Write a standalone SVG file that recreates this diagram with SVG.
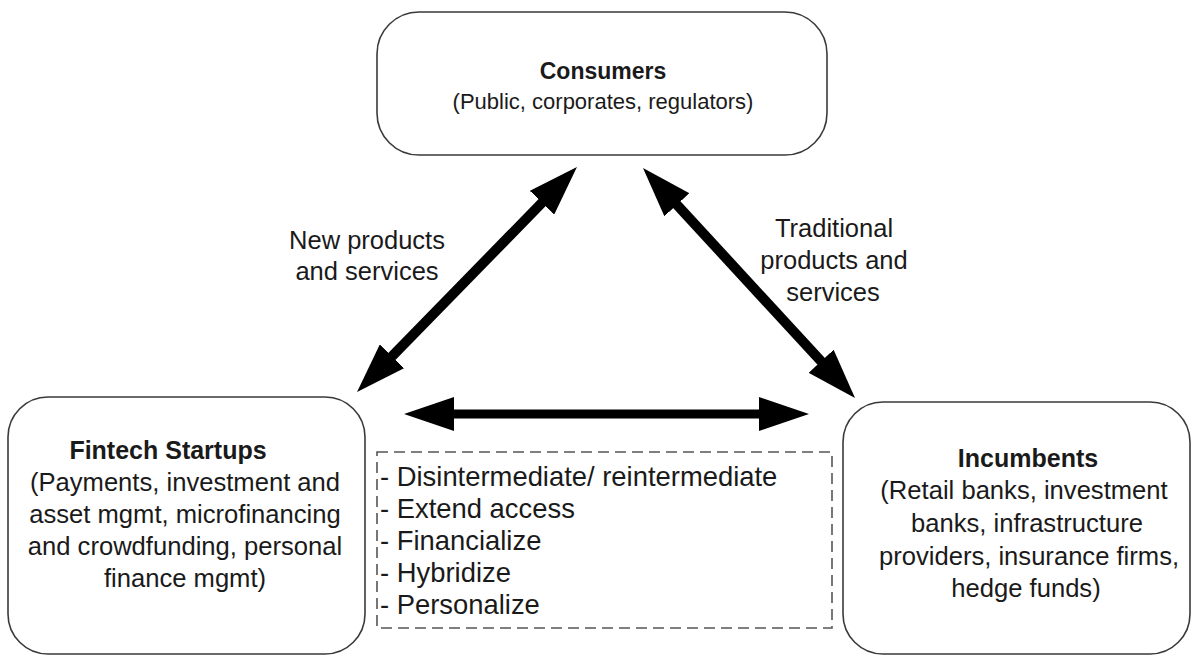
<svg xmlns="http://www.w3.org/2000/svg" width="1192" height="657" viewBox="0 0 1192 657">
  <style>
    .box { fill: #ffffff; stroke: #3a3a3a; stroke-width: 1.6; }
    .dash { fill: none; stroke: #555555; stroke-width: 1.6; stroke-dasharray: 11 6; }
    .t { font-family: "Liberation Sans", Arial, sans-serif; fill: #1a1a1a; }
    .title { font-weight: bold; font-size: 25px; text-anchor: middle; }
    .body { font-size: 25.6px; text-anchor: middle; }
    .cons { font-size: 22px; text-anchor: middle; }
    .lab { font-size: 25.5px; text-anchor: middle; }
    .list { font-size: 27.4px; }
    .conn { stroke: #000000; fill: none; }
  </style>
  <defs>
    <marker id="head" markerUnits="userSpaceOnUse" viewBox="0 0 50 34" markerWidth="50" markerHeight="34" refX="10" refY="17" orient="auto-start-reverse">
      <path d="M0,0 L50,17 L0,34 z" fill="#000000"/>
    </marker>
  </defs>
  <rect width="1192" height="657" fill="#ffffff"/>

  <g id="connectors">
    <line class="conn" x1="385" y1="363.4" x2="549" y2="195.6" stroke-width="10" marker-start="url(#head)" marker-end="url(#head)"/>
    <line class="conn" x1="670.1" y1="197.4" x2="827.9" y2="368.6" stroke-width="10" marker-start="url(#head)" marker-end="url(#head)"/>
    <line class="conn" x1="444" y1="414" x2="769" y2="414" stroke-width="9" marker-start="url(#head)" marker-end="url(#head)"/>
  </g>

  <g id="consumers">
    <rect class="box" x="377" y="12" width="450" height="143" rx="42" ry="42"/>
    <text class="t title" x="603" y="79" style="font-size:23px">Consumers</text>
    <text class="t cons" x="603" y="109">(Public, corporates, regulators)</text>
  </g>

  <g id="fintech">
    <rect class="box" x="8" y="397" width="357" height="257" rx="40" ry="40"/>
    <text class="t title" x="168" y="459">Fintech Startups</text>
    <text class="t body" x="185" y="491">(Payments, investment and</text>
    <text class="t body" x="185" y="523">asset mgmt, microfinancing</text>
    <text class="t body" x="185" y="555">and crowdfunding, personal</text>
    <text class="t body" x="185" y="587">finance mgmt)</text>
  </g>

  <g id="incumbents">
    <rect class="box" x="843" y="402" width="347" height="252" rx="40" ry="40"/>
    <text class="t title" x="1028" y="467">Incumbents</text>
    <text class="t body" x="1024" y="499">(Retail banks, investment</text>
    <text class="t body" x="1027" y="532">banks, infrastructure</text>
    <text class="t body" x="1029" y="565">providers, insurance firms,</text>
    <text class="t body" x="1026" y="597">hedge funds)</text>
  </g>

  <g id="strategies">
    <rect class="dash" x="377" y="452" width="455" height="176"/>
    <text class="t list" x="380" y="486">- Disintermediate/ reintermediate</text>
    <text class="t list" x="380" y="518">- Extend access</text>
    <text class="t list" x="380" y="550">- Financialize</text>
    <text class="t list" x="380" y="582">- Hybridize</text>
    <text class="t list" x="380" y="614">- Personalize</text>
  </g>

  <g id="label-new">
    <text class="t lab" x="367" y="249">New products</text>
    <text class="t lab" x="367" y="280">and services</text>
  </g>

  <g id="label-traditional">
    <text class="t lab" x="834" y="237">Traditional</text>
    <text class="t lab" x="834" y="269">products and</text>
    <text class="t lab" x="833" y="301">services</text>
  </g>
</svg>
